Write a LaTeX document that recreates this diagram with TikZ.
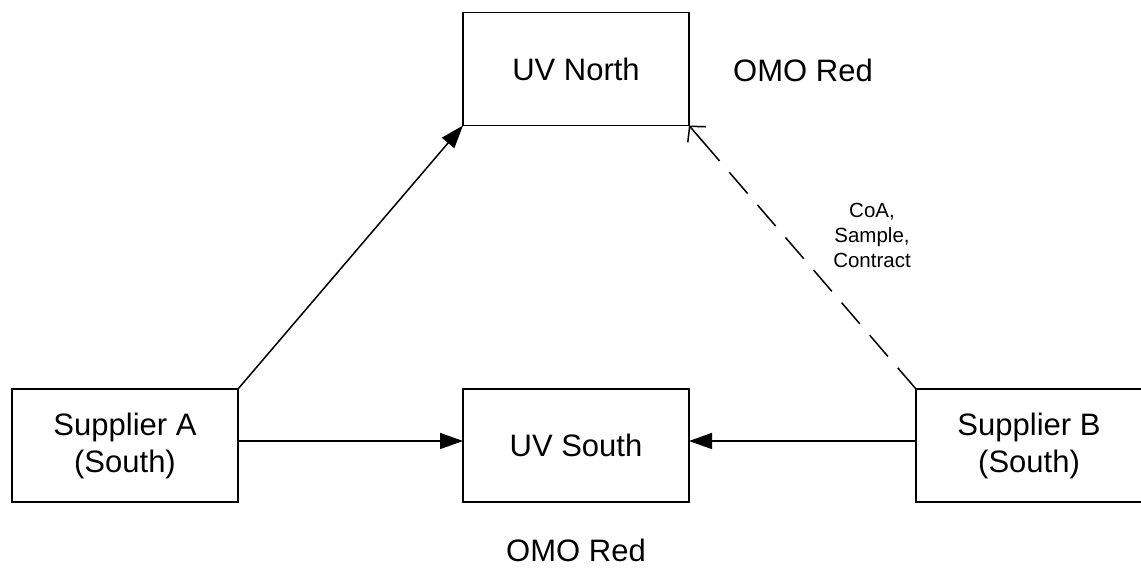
\documentclass[tikz,border=0pt]{standalone}
\usepackage{fontspec}
\setmainfont{Liberation Sans}
\usetikzlibrary{arrows.meta,calc}
\begin{document}
\begin{tikzpicture}[x=1pt,y=-1pt,
  box/.style={draw,line width=1.5pt,rectangle,minimum width=226pt,minimum height=113pt,inner sep=0pt,outer sep=0pt,align=center,font=\fontsize{31}{37}\selectfont},
  lbl/.style={inner sep=0pt,align=center,font=\fontsize{31}{37}\selectfont},
  small/.style={inner sep=0pt,align=center,font=\fontsize{20.5}{25}\selectfont},
  conn/.style={line width=1.5pt,-{Triangle[length=23pt,width=16pt]}},
  dconn/.style={line width=1.5pt,dash pattern=on 28pt off 15pt},
  barb/.style={line width=1.5pt,-{Straight Barb[length=11pt,width=24pt]}}]
\useasboundingbox (0,0) rectangle (1141,572);
\node[box] (SA) at (125,445.5) {Supplier A\\(South)};
\node[box] (UVN) at (576,69) {UV North};
\node[box] (UVS) at (576,445.5) {UV South};
\node[box] (SB) at (1029,445.5) {Supplier B\\(South)};
\node[lbl] (omo1) at (803,70) {OMO Red};
\node[lbl] (omo2) at (576,550) {OMO Red};
\node[small] (coa) at (872,235) {CoA,\\Sample,\\Contract};
\draw[conn] (SA.north east) -- (UVN.south west);
\draw[conn] ([yshift=4.5pt]SA.east) -- ([yshift=4.5pt]UVS.west);
\draw[conn] ([yshift=4.5pt]SB.west) -- ([yshift=4.5pt]UVS.east);
\draw[dconn] (SB.north west) -- ($(UVN.south east)!6pt!(SB.north west)$);
\draw[barb] ($(UVN.south east)!20pt!(SB.north west)$) -- (UVN.south east);
\end{tikzpicture}
\end{document}
